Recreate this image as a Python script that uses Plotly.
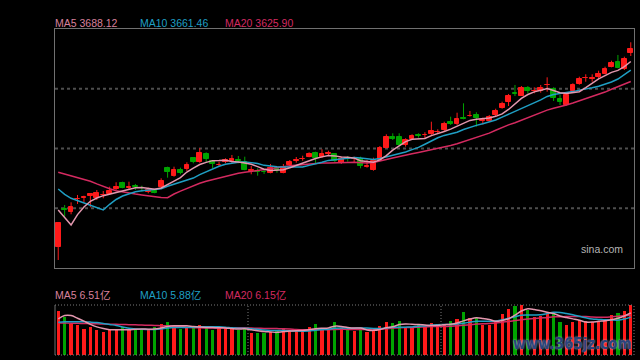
import plotly.graph_objects as go

# ---------------- data ----------------
day_index = list(range(90))

open_ = [3112.2, 3229.4, 3221.0, 3259.0, 3264.2, 3269.8, 3262.7, 3271.4, 3275.1, 3291.6,
         3309.3, 3293.8, 3299.4, 3295.3, 3281.4, 3286.3, 3298.8, 3357.9, 3333.0, 3351.6,
         3353.8, 3387.1, 3376.5, 3400.5, 3377.8, 3365.3, 3374.6, 3379.6, 3382.7, 3375.6,
         3346.7, 3348.5, 3345.4, 3342.3, 3356.0, 3342.3, 3365.3, 3380.2, 3383.4, 3392.1,
         3404.5, 3390.2, 3401.1, 3400.5, 3371.5, 3388.0, 3385.5, 3384.0, 3360.0, 3350.7,
         3381.8, 3420.0, 3452.4, 3452.4, 3428.5, 3446.2, 3459.6, 3458.0, 3462.7, 3468.9,
         3475.1, 3500.9, 3492.8, 3512.4, 3517.1, 3521.8, 3504.6, 3504.0, 3520.8, 3543.5,
         3563.1, 3591.1, 3581.8, 3605.7, 3595.5, 3596.4, 3613.5, 3601.7, 3571.5, 3552.9,
         3597.3, 3618.2, 3636.8, 3634.6, 3640.9, 3650.2, 3672.0, 3687.5, 3663.9, 3713.6]

high = [3187.5, 3241.9, 3250.2, 3273.0, 3270.8, 3277.6, 3288.5, 3285.4, 3298.8, 3312.5,
        3314.3, 3314.3, 3307.2, 3301.9, 3295.7, 3290.7, 3324.9, 3361.0, 3361.0, 3357.9,
        3374.6, 3389.0, 3418.5, 3405.7, 3381.8, 3376.5, 3387.1, 3397.4, 3394.2, 3392.1,
        3363.1, 3356.0, 3352.9, 3369.4, 3361.0, 3369.4, 3381.8, 3391.1, 3395.2, 3405.7,
        3407.6, 3415.1, 3410.7, 3402.6, 3392.1, 3394.2, 3392.1, 3392.1, 3381.8, 3389.0,
        3425.3, 3461.7, 3464.8, 3464.8, 3449.3, 3461.7, 3464.8, 3468.0, 3500.9, 3477.3,
        3500.9, 3516.5, 3528.9, 3558.1, 3534.2, 3530.2, 3513.4, 3521.8, 3541.3, 3563.1,
        3587.1, 3615.1, 3611.9, 3611.9, 3607.9, 3615.1, 3639.0, 3607.9, 3584.0, 3586.1,
        3620.3, 3640.9, 3648.3, 3648.3, 3659.5, 3672.0, 3690.6, 3708.4, 3703.1, 3747.9]

low = [3070.8, 3205.5, 3212.9, 3245.0, 3250.2, 3234.7, 3257.4, 3262.7, 3273.0, 3288.5,
       3293.8, 3288.5, 3288.5, 3283.2, 3278.2, 3278.2, 3293.8, 3326.8, 3329.9, 3337.3,
       3347.6, 3371.5, 3373.1, 3373.4, 3356.0, 3363.1, 3371.5, 3373.4, 3371.5, 3349.8,
       3337.3, 3333.0, 3338.3, 3340.4, 3342.3, 3340.4, 3361.0, 3373.4, 3379.6, 3390.2,
       3369.4, 3388.0, 3394.2, 3375.6, 3369.4, 3376.5, 3373.4, 3356.0, 3357.9, 3348.5,
       3380.9, 3418.2, 3444.0, 3425.3, 3423.2, 3444.0, 3451.2, 3449.3, 3459.6, 3462.7,
       3469.8, 3490.7, 3490.7, 3508.4, 3516.5, 3485.4, 3492.8, 3500.9, 3518.6, 3541.3,
       3549.7, 3580.8, 3580.8, 3589.2, 3589.2, 3591.1, 3594.2, 3565.3, 3552.9, 3550.7,
       3594.2, 3616.0, 3625.3, 3625.3, 3635.9, 3648.3, 3670.1, 3667.0, 3661.7, 3705.2]

close = [3186.8, 3227.2, 3236.6, 3261.4, 3266.7, 3275.1, 3278.2, 3273.0, 3286.3, 3298.8,
         3295.7, 3298.8, 3296.3, 3293.2, 3287.6, 3280.1, 3317.4, 3345.4, 3350.7, 3342.3,
         3366.3, 3376.5, 3402.6, 3384.0, 3369.4, 3366.9, 3381.8, 3383.4, 3377.8, 3350.7,
         3349.8, 3343.5, 3343.5, 3357.9, 3350.7, 3361.0, 3375.6, 3381.8, 3384.9, 3401.4,
         3388.0, 3401.4, 3402.6, 3379.6, 3384.9, 3384.0, 3387.1, 3363.1, 3361.6, 3378.7,
         3420.0, 3454.3, 3448.0, 3428.5, 3444.0, 3456.4, 3456.4, 3459.6, 3472.0, 3470.4,
         3492.8, 3493.8, 3509.3, 3510.2, 3518.6, 3511.5, 3506.2, 3516.5, 3535.1, 3556.0,
         3580.8, 3587.1, 3606.7, 3596.4, 3597.0, 3604.8, 3615.1, 3575.6, 3563.1, 3584.0,
         3615.1, 3633.7, 3637.8, 3636.2, 3648.3, 3664.8, 3684.4, 3668.9, 3695.9, 3727.0]

# volume in 亿
volume = [6.82, 5.85, 4.88, 4.67, 4.00, 4.36, 3.90, 3.59, 3.80, 3.96,
          4.27, 3.90, 3.96, 4.00, 3.90, 4.31, 4.77, 5.08, 4.57, 4.00,
          4.27, 4.16, 4.62, 4.27, 3.90, 4.11, 4.11, 4.11, 3.90, 4.05,
          3.43, 3.39, 3.43, 3.59, 3.70, 4.11, 3.74, 3.74, 3.74, 4.27,
          4.77, 4.16, 4.05, 5.08, 4.11, 3.90, 3.70, 4.16, 3.59, 3.74,
          4.57, 5.08, 4.93, 5.24, 4.27, 4.27, 4.88, 4.57, 4.93, 4.27,
          4.77, 5.24, 5.54, 6.62, 5.70, 5.81, 4.67, 4.67, 5.28, 6.36,
          7.08, 7.59, 7.75, 6.98, 5.85, 6.11, 6.47, 6.73, 5.08, 4.67,
          5.04, 5.39, 5.34, 5.04, 5.34, 5.44, 6.16, 6.47, 6.78, 7.75]

# moving-average values before the window is complete (history not shown)
ma5_early = [3226.3, 3203.6, 3179.7, 3212.0]
ma10_early = [3291.6, 3275.1, 3262.7, 3255.2, 3247.1, 3239.7, 3233.5, 3226.3, 3244.0]
ma20_early = [3343.5, 3338.3, 3333.0, 3327.7, 3322.7, 3315.6, 3307.5, 3298.8, 3292.5, 3286.3,
              3282.0, 3278.6, 3275.8, 3273.0, 3269.8, 3266.7, 3265.5, 3264.6, 3276.1]
vma5_early = [5.59, 6.11, 6.11, 5.70]
vma10_early = [5.08, 5.15, 5.17, 5.17, 5.15, 5.10, 5.02, 4.88, 4.72]
vma20_early = [4.97, 4.95, 4.93, 4.91, 4.88, 4.86, 4.83, 4.80, 4.78, 4.75,
               4.72, 4.70, 4.67, 4.64, 4.61, 4.58, 4.55, 4.52, 4.48]

price_labels = ["MA5 3688.12", "MA10 3661.46", "MA20 3625.90"]
volume_labels = ["MA5 6.51亿", "MA10 5.88亿", "MA20 6.15亿"]
source_label = "sina.com"
watermark = "www.365jz.com"

# ---------------- styles ----------------
RED = "#ff1a1a"
GREEN = "#00a300"
C_MA5 = "#e397ae"
C_MA10 = "#1f9fc4"
C_MA20 = "#d42a60"
L_MA5 = "#d9809c"
FONT = "Arial, 'Liberation Sans', 'Noto Sans CJK SC', sans-serif"


def moving_average(values, n, early):
    out = list(early)
    for i in range(n - 1, len(values)):
        out.append(sum(values[i - n + 1:i + 1]) / n)
    return out


ma5 = moving_average(close, 5, ma5_early)
ma10 = moving_average(close, 10, ma10_early)
ma20 = moving_average(close, 20, ma20_early)
vma5 = moving_average(volume, 5, vma5_early)
vma10 = moving_average(volume, 10, vma10_early)
vma20 = moving_average(volume, 20, vma20_early)

up = [c >= o for o, c in zip(open_, close)]
colors = [RED if u else GREEN for u in up]
body_base = [min(o, c) for o, c in zip(open_, close)]
body_h = [abs(c - o) for o, c in zip(open_, close)]

fig = go.Figure()

# wicks
for flag, col in ((True, RED), (False, GREEN)):
    wx, wy = [], []
    for i, u in enumerate(up):
        if u == flag:
            wx += [day_index[i], day_index[i], None]
            wy += [low[i], high[i], None]
    fig.add_trace(go.Scatter(x=wx, y=wy, mode="lines", line=dict(color=col, width=1),
                             hoverinfo="skip", xaxis="x", yaxis="y"))

# bodies
fig.add_trace(go.Bar(x=day_index, y=body_h, base=body_base, width=0.74,
                     marker=dict(color=colors, line=dict(color=colors, width=1)),
                     xaxis="x", yaxis="y"))

for vals, col in ((ma20, C_MA20), (ma10, C_MA10), (ma5, C_MA5)):
    fig.add_trace(go.Scatter(x=day_index, y=vals, mode="lines",
                             line=dict(color=col, width=1.5), xaxis="x", yaxis="y"))

# volume
fig.add_trace(go.Bar(x=day_index, y=volume, width=0.5, marker=dict(color=colors, line=dict(width=0)),
                     xaxis="x2", yaxis="y2"))
for vals, col in ((vma20, C_MA20), (vma10, C_MA10), (vma5, C_MA5)):
    fig.add_trace(go.Scatter(x=day_index, y=vals, mode="lines",
                             line=dict(color=col, width=1.5, shape="spline"),
                             xaxis="x2", yaxis="y2"))

W, H = 640, 360
xdom = [55 / W, 634 / W]
n = len(day_index)
xr = [day_index[0] - 0.5, day_index[-1] + 0.5]

axis_common = dict(showgrid=False, zeroline=False, showticklabels=False, ticks="")

shapes = []
grid = dict(color="#4e4e4e", width=2, dash="3px,3px")
for f in (0.25, 0.5, 0.75):
    shapes.append(dict(type="line", xref="x domain", yref="y domain", x0=0, x1=1, y0=f, y1=f,
                       line=grid, layer="below"))
dotted = dict(color="#7a7a7a", width=1, dash="1px,2px")
shapes.append(dict(type="line", xref="x2 domain", yref="y2 domain", x0=0, x1=0, y0=0, y1=1,
                   line=dict(color="#6e6e6e", width=1)))
for y in (0, 1):
    shapes.append(dict(type="line", xref="x2 domain", yref="y2 domain", x0=0, x1=1, y0=y, y1=y,
                       line=dotted))
shapes.append(dict(type="line", xref="x2 domain", yref="y2 domain", x0=1, x1=1, y0=0, y1=1,
                   line=dotted))
for k in (1, 2):
    xs = day_index[0] + k * n / 3 - 0.5
    shapes.append(dict(type="line", xref="x2", yref="y2 domain", x0=xs, x1=xs, y0=0, y1=1,
                       line=dotted))

annotations = []
label_x = [53, 138, 223]
for txt, col, px in zip(price_labels, (L_MA5, C_MA10, C_MA20), label_x):
    annotations.append(dict(text=txt, x=px / W, y=1 - 23 / H, xref="paper", yref="paper",
                            xanchor="left", yanchor="middle", showarrow=False,
                            font=dict(family=FONT, size=10.5, color=col)))
for txt, col, px in zip(volume_labels, (L_MA5, C_MA10, C_MA20), label_x):
    annotations.append(dict(text=txt, x=px / W, y=1 - 295 / H, xref="paper", yref="paper",
                            xanchor="left", yanchor="middle", showarrow=False,
                            font=dict(family=FONT, size=10.5, color=col)))
annotations.append(dict(text=source_label, x=625 / W, y=1 - 249 / H, xref="paper", yref="paper",
                        xanchor="right", yanchor="middle", showarrow=False,
                        font=dict(family=FONT, size=10.5, color="#b4b4b4")))
annotations.append(dict(text="<b>" + watermark + "</b>", x=634 / W, y=1 - 344 / H, xref="paper",
                        yref="paper", xanchor="right", yanchor="middle", showarrow=False,
                        font=dict(family="'DejaVu Sans Condensed', 'DejaVu Sans', sans-serif",
                                  size=15, color="rgba(28,58,118,0.92)",
                                  shadow="0px 0px 2px #c8d2e6")))

fig.update_layout(
    width=W, height=H,
    margin=dict(l=0, r=0, t=0, b=0),
    paper_bgcolor="black", plot_bgcolor="black",
    showlegend=False, bargap=0,
    xaxis=dict(domain=xdom, range=xr, anchor="y", showline=True, mirror=True,
               linecolor="#707070", linewidth=1, **axis_common),
    yaxis=dict(domain=[92 / H, 331 / H], range=[3045.9, 3789.2], anchor="x", showline=True,
               mirror=True, linecolor="#707070", linewidth=1, **axis_common),
    xaxis2=dict(domain=xdom, range=xr, anchor="y2", matches="x", showline=False, **axis_common),
    yaxis2=dict(domain=[5 / H, 55 / H], range=[0, max(volume)], anchor="x2", showline=False,
                **axis_common),
    shapes=shapes,
    annotations=annotations,
)

fig.write_html("out.html", config={"displayModeBar": False},
               post_script="document.body.style.margin='0px';"
                           "document.body.style.background='black';")
